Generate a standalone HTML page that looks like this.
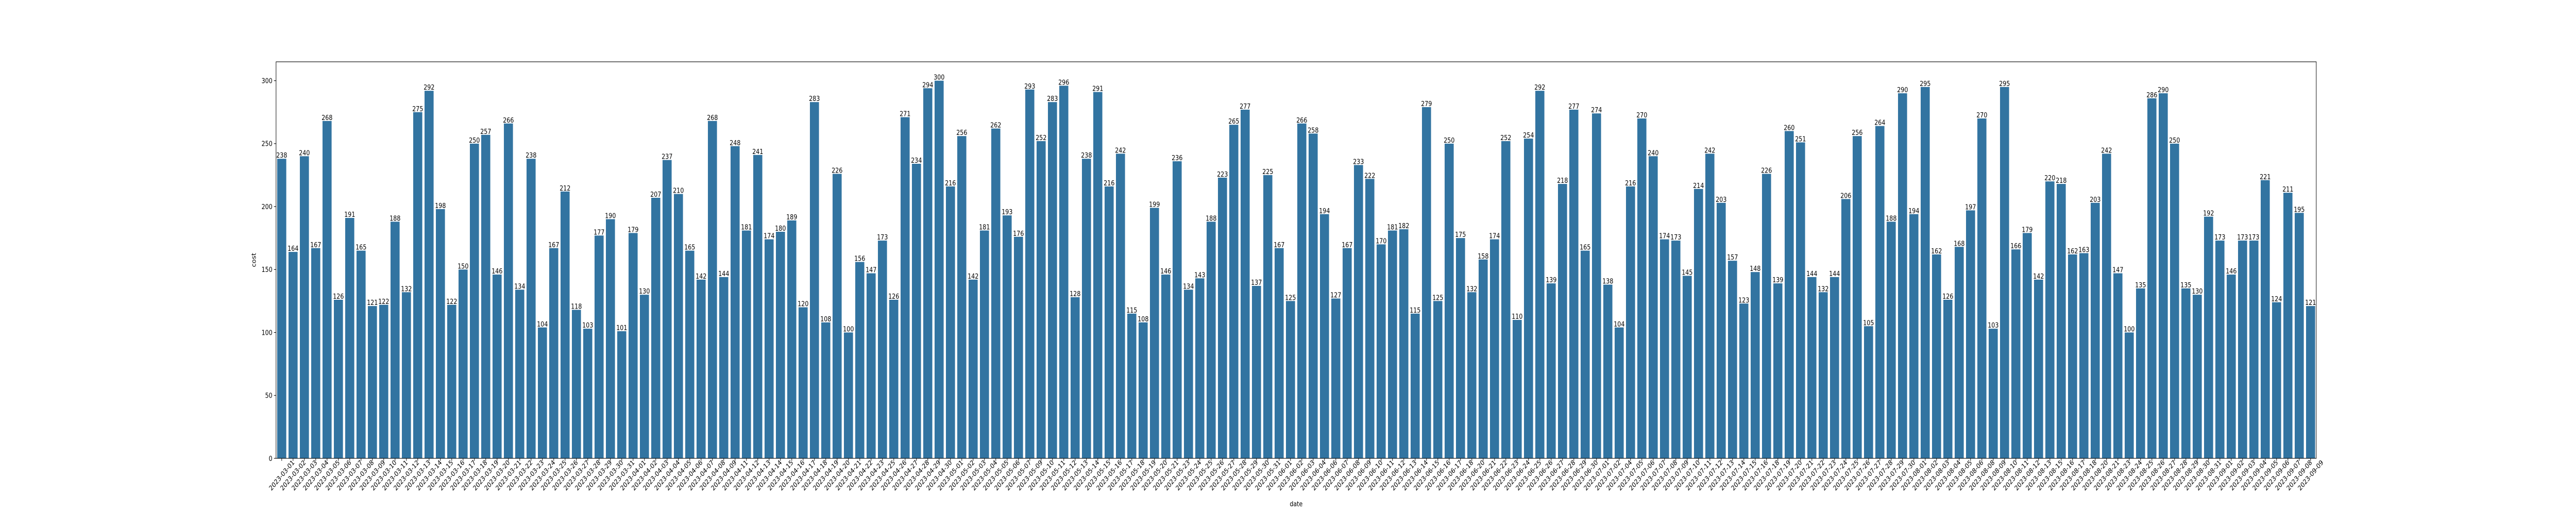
<!DOCTYPE html>
<html><head><meta charset="utf-8"><style>
html,body{margin:0;padding:0;background:#fff;width:100%;height:100%;overflow:hidden;}
svg{display:block;position:absolute;left:0;top:0;width:100vw;height:100vh;font-family:"DejaVu Sans","Liberation Sans",sans-serif;}
</style></head><body>
<svg id="chart" viewBox="0 0 6000 1000" preserveAspectRatio="none" xmlns="http://www.w3.org/2000/svg">
<rect width="6000" height="1000" fill="#fff"/>
<g id="bars"></g>
<g id="labels"></g>
<g id="xaxis"></g>
<g id="yaxis"></g>
<rect id="frame" fill="none" stroke="#000" stroke-width="1.1"/>
<text id="xtitle" y="983" font-size="13.3" text-anchor="middle">date</text>
<text id="ytitle" x="0" y="0" font-size="13.3" text-anchor="middle">cost</text>
</svg>
<script>
const values = [238,164,240,167,268,126,191,165,121,122,188,132,275,292,198,122,150,250,257,146,266,134,238,104,167,212,
118,103,177,190,101,179,130,207,237,210,165,142,268,144,248,181,241,174,
180,189,120,283,108,226,100,156,147,173,126,271,234,294,300,216,256,142,
181,262,193,176,293,252,283,296,128,238,291,216,242,115,108,199,146,
236,134,143,188,223,265,277,137,225,167,125,266,258,194,127,
167,233,222,170,181,182,115,279,125,250,175,132,158,174,
252,110,254,292,139,218,277,165,274,138,104,216,270,240,
174,173,145,214,242,203,157,123,148,226,139,260,251,144,132,
144,206,256,105,264,188,290,194,295,162,126,168,197,270,
103,295,166,179,142,220,218,162,163,203,242,147,100,135,
286,290,250,135,130,192,173,146,173,173,221,124,211,195,121];
const startDate = "2023-03-01";
const skipDates = ["2023-04-10","2023-04-24","2023-05-08","2023-05-22","2023-06-05","2023-06-19","2023-07-03","2023-07-17","2023-07-31","2023-08-07","2023-08-14","2023-08-19","2023-08-22"];
const yTicks = [0,50,100,150,200,250,300];

const dates = [];
(function(){
  let d = new Date(startDate + "T00:00:00Z");
  while (dates.length < values.length) {
    const s = d.toISOString().slice(0,10);
    if (skipDates.indexOf(s) < 0) dates.push(s);
    d = new Date(d.getTime() + 86400000);
  }
})();

const L = 643, R = 5395, T = 120, B = 890;
const fr = document.getElementById("frame");
fr.setAttribute("x", L); fr.setAttribute("y", T); fr.setAttribute("width", R - L); fr.setAttribute("height", B - T);
document.getElementById("xtitle").setAttribute("x", (L + R) / 2);
document.getElementById("ytitle").setAttribute("transform", "translate(" + (L - 47) + "," + ((T + B) / 2) + ") rotate(-90)");
const yMax = Math.max.apply(null, values) * 1.05;
const n = values.length;
const step = (R - L) / n;
function xc(i){ return L + (i + 0.5) * step; }
function ys(v){ return B - v * (B - T) / yMax; }
const NS = "http://www.w3.org/2000/svg";
function mk(tag, attrs, parent){ const e = document.createElementNS(NS, tag); for (const k in attrs) e.setAttribute(k, attrs[k]); parent.appendChild(e); return e; }

const gb = document.getElementById("bars"), gl = document.getElementById("labels"), gx = document.getElementById("xaxis"), gy = document.getElementById("yaxis");
const bw = step * 0.8;
values.forEach(function(v, i){
  const r = mk("rect", {x: xc(i) - bw/2, y: ys(v), width: bw, height: B - ys(v), fill: "#3274a1"}, gb);
  
  
  const t = mk("text", {x: xc(i), y: ys(v) - 2, "font-size": "13.3", "text-anchor": "middle"}, gl);
  t.textContent = v;
  
  
  const tk = mk("line", {x1: xc(i), x2: xc(i), y1: B, y2: B + 4.9, stroke: "#000", "stroke-width": 1.1}, gx);
  
  
  const cy = B + 33;
  const lb = mk("text", {x: xc(i), y: cy + 4.5, "font-size": "13.3", "text-anchor": "middle", transform: "rotate(-45 " + xc(i) + " " + cy + ")"}, gx);
  lb.textContent = dates[i];
  
  
});
yTicks.forEach(function(v){
  const tk = mk("line", {x1: L - 4.9, x2: L, y1: ys(v), y2: ys(v), stroke: "#000", "stroke-width": 1.1}, gy);
  
  
  const lb = mk("text", {x: L - 8.5, y: ys(v) + 4.8, "font-size": "13.3", "text-anchor": "end"}, gy);
  lb.textContent = v;
  
  
});
</script>
</body></html>
